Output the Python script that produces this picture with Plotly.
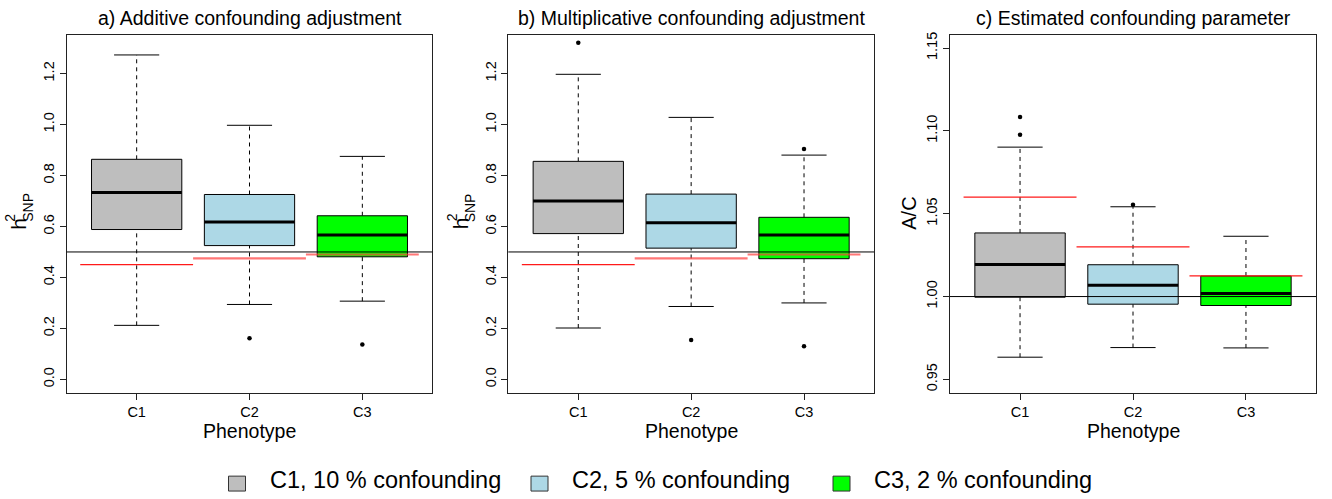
import plotly.graph_objects as go

# ---- data ---------------------------------------------------------------
categories = ["C1", "C2", "C3"]
fill_colors = ["#BEBEBE", "#ADD8E6", "#00FF00"]
legend_labels = ["C1, 10 % confounding", "C2, 5 % confounding", "C3, 2 % confounding"]

# a) additive confounding adjustment (h2_SNP)
add_low = [0.212, 0.294, 0.307]
add_q1 = [0.588, 0.525, 0.481]
add_med = [0.733, 0.618, 0.567]
add_q3 = [0.8635, 0.7255, 0.642]
add_high = [1.273, 0.997, 0.875]
add_out = [[], [0.161], [0.1365]]

# b) multiplicative confounding adjustment (h2_SNP)
mult_low = [0.2016, 0.286, 0.300]
mult_q1 = [0.572, 0.515, 0.4735]
mult_med = [0.700, 0.615, 0.567]
mult_q3 = [0.8555, 0.727, 0.636]
mult_high = [1.197, 1.028, 0.880]
mult_out = [[1.321], [0.155], [0.130, 0.904]]

# c) estimated confounding parameter (A/C)
conf_low = [0.9634, 0.9692, 0.9690]
conf_q1 = [0.9996, 0.9954, 0.9946]
conf_med = [1.0194, 1.0068, 1.0018]
conf_q3 = [1.0384, 1.0192, 1.0124]
conf_high = [1.0902, 1.0542, 1.0364]
conf_out = [[1.0976, 1.1084], [1.0554], []]

# reference values drawn as red segments and the black horizontal line
true_h2 = [0.45, 0.475, 0.49]
true_ac = [1.06, 1.03, 1.0125]
h2_ref = 0.5
ac_ref = 1.0

titles = ["a) Additive confounding adjustment",
          "b) Multiplicative confounding adjustment",
          "c) Estimated confounding parameter"]
x_title = "Phenotype"

# ---- layout geometry (pixels) ------------------------------------------
W, H = 1332, 499
FONT = "Liberation Sans, Arial, sans-serif"
panel_px = [(66.7, 432.3), (508.3, 874.0), (950.0, 1316.0)]
top_px, bot_px = 32.0, 392.0


def px(x):
    return x / W


def py(y):
    return 1 - y / H


fig = go.Figure()

panels = [
    dict(low=add_low, q1=add_q1, med=add_med, q3=add_q3, high=add_high,
         out=add_out, true=true_h2, ref=h2_ref, yr=[-0.052, 1.352],
         ticks=[0, 0.2, 0.4, 0.6, 0.8, 1.0, 1.2], fmt=".1f",
         seg_style=[("#FF1A1A", 1.2), ("rgba(255,60,60,0.7)", 2.2), ("rgba(255,60,60,0.7)", 2.0)]),
    dict(low=mult_low, q1=mult_q1, med=mult_med, q3=mult_q3, high=mult_high,
         out=mult_out, true=true_h2, ref=h2_ref, yr=[-0.052, 1.352],
         ticks=[0, 0.2, 0.4, 0.6, 0.8, 1.0, 1.2], fmt=".1f",
         seg_style=[("#FF1A1A", 1.2), ("rgba(255,60,60,0.7)", 2.2), ("rgba(255,60,60,0.7)", 2.0)]),
    dict(low=conf_low, q1=conf_q1, med=conf_med, q3=conf_q3, high=conf_high,
         out=conf_out, true=true_ac, ref=ac_ref, yr=[0.942, 1.158],
         ticks=[0.95, 1.0, 1.05, 1.1, 1.15], fmt=".2f",
         seg_style=[("#FF1A1A", 1.2), ("#FF1A1A", 1.2), ("#FF1A1A", 1.2)]),
]

BOXW = 0.4   # half box width
CAPW = 0.2   # half staple width
SEGW = 0.5   # half width of the red reference segments

for p, d in enumerate(panels):
    sfx = "" if p == 0 else str(p + 1)
    xa, ya = "x" + sfx, "y" + sfx
    for i, cat in enumerate(categories):
        xc = i + 1
        # dashed whiskers
        for y0, y1 in ((d["q3"][i], d["high"][i]), (d["low"][i], d["q1"][i])):
            fig.add_trace(go.Scatter(x=[xc, xc], y=[y0, y1], mode="lines",
                                     line=dict(color="black", width=1, dash="4px,4px"),
                                     xaxis=xa, yaxis=ya, showlegend=False, hoverinfo="skip"))
        # staples
        for yv in (d["high"][i], d["low"][i]):
            fig.add_trace(go.Scatter(x=[xc - CAPW, xc + CAPW], y=[yv, yv], mode="lines",
                                     line=dict(color="black", width=1),
                                     xaxis=xa, yaxis=ya, showlegend=False, hoverinfo="skip"))
        # box
        q1, q3 = d["q1"][i], d["q3"][i]
        fig.add_trace(go.Scatter(
            x=[xc - BOXW, xc + BOXW, xc + BOXW, xc - BOXW, xc - BOXW],
            y=[q1, q1, q3, q3, q1], mode="lines", fill="toself",
            fillcolor=fill_colors[i], line=dict(color="black", width=1),
            xaxis=xa, yaxis=ya, showlegend=False, hoverinfo="skip"))
        # median
        fig.add_trace(go.Scatter(x=[xc - BOXW, xc + BOXW], y=[d["med"][i]] * 2, mode="lines",
                                 line=dict(color="black", width=3),
                                 xaxis=xa, yaxis=ya, showlegend=False, hoverinfo="skip"))
        # outliers
        if d["out"][i]:
            fig.add_trace(go.Scatter(x=[xc] * len(d["out"][i]), y=d["out"][i], mode="markers",
                                     marker=dict(color="black", size=4.5),
                                     xaxis=xa, yaxis=ya, showlegend=False, hoverinfo="skip"))
    # horizontal reference line across the plot region
    fig.add_shape(type="line", xref=xa + " domain", yref=ya, x0=0, x1=1,
                  y0=d["ref"], y1=d["ref"], line=dict(color="black", width=1))
    # red segments with the value each phenotype should have
    for i in range(len(categories)):
        xc = i + 1
        col, lw = d["seg_style"][i]
        fig.add_trace(go.Scatter(x=[xc - SEGW, xc + SEGW], y=[d["true"][i]] * 2, mode="lines",
                                 line=dict(color=col, width=lw),
                                 xaxis=xa, yaxis=ya, showlegend=False, hoverinfo="skip"))

    x0p, x1p = panel_px[p]
    axis_common = dict(showline=True, mirror=True, linecolor="#222222", linewidth=1,
                       ticks="outside", ticklen=6, tickcolor="#222222",
                       showgrid=False, zeroline=False,
                       tickfont=dict(family=FONT, size=14.5, color="black"))
    fig.update_layout(**{
        "xaxis" + sfx: dict(domain=[px(x0p), px(x1p)], range=[0.38, 3.62],
                            tickmode="array", tickvals=[1, 2, 3], ticktext=categories,
                            anchor=ya, **axis_common),
        "yaxis" + sfx: dict(domain=[py(bot_px), py(top_px)], range=d["yr"],
                            tickmode="array", tickvals=d["ticks"],
                            ticktext=[format(t, d["fmt"]) for t in d["ticks"]],
                            tickangle=-90, anchor=xa, **axis_common),
    })

    xmid = (x0p + x1p) / 2
    fig.add_annotation(x=px(xmid), y=py(15), xref="paper", yref="paper",
                       text=titles[p], showarrow=False, xanchor="center", yanchor="middle",
                       font=dict(family=FONT, size=19.5, color="black"))
    fig.add_annotation(x=px(xmid), y=py(431), xref="paper", yref="paper",
                       text=x_title, showarrow=False, xanchor="center", yanchor="middle",
                       font=dict(family=FONT, size=19.5, color="black"))

# y-axis titles: h^2 with stacked SNP subscript for panels a and b
for off in (0.0, 441.6):
    fig.add_annotation(x=px(19 + off), y=py(222), xref="paper", yref="paper", text="h",
                       textangle=-90, showarrow=False, xanchor="center", yanchor="middle",
                       font=dict(family=FONT, size=21, color="black"))
    fig.add_annotation(x=px(10 + off), y=py(216), xref="paper", yref="paper", text="2",
                       textangle=-90, showarrow=False, xanchor="center", yanchor="middle",
                       font=dict(family=FONT, size=14, color="black"))
    fig.add_annotation(x=px(28 + off), y=py(206), xref="paper", yref="paper", text="SNP",
                       textangle=-90, showarrow=False, xanchor="center", yanchor="middle",
                       font=dict(family=FONT, size=14, color="black"))
fig.add_annotation(x=px(909), y=py(212), xref="paper", yref="paper", text="A/C",
                   textangle=-90, showarrow=False, xanchor="center", yanchor="middle",
                   font=dict(family=FONT, size=20, color="black"))

# legend row below the panels
legend_sq_x = [228.5, 531.0, 833.0]
legend_txt_x = [268.0, 570.0, 871.5]
for i, lab in enumerate(legend_labels):
    fig.add_shape(type="rect", xref="paper", yref="paper",
                  x0=px(legend_sq_x[i]), x1=px(legend_sq_x[i] + 17),
                  y0=py(491), y1=py(476), fillcolor=fill_colors[i],
                  line=dict(color="#333333", width=1))
    fig.add_annotation(x=px(legend_txt_x[i]), y=py(480), xref="paper", yref="paper",
                       text=lab, showarrow=False, xanchor="left", yanchor="middle",
                       font=dict(family=FONT, size=23.5, color="black"))

fig.update_layout(width=W, height=H, margin=dict(l=0, r=0, t=0, b=0),
                  paper_bgcolor="white", plot_bgcolor="white", showlegend=False)

fig.write_html("out.html")
